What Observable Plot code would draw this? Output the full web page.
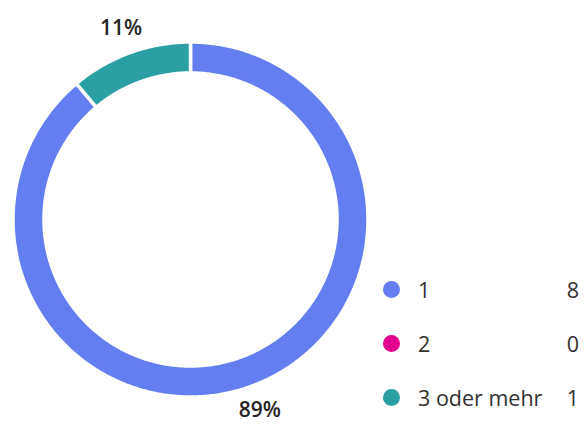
<!DOCTYPE html>
<html>
<head>
<meta charset="utf-8">
<script src="https://cdn.jsdelivr.net/npm/d3@7"></script>
<script src="https://cdn.jsdelivr.net/npm/@observablehq/plot@0.6"></script>
<style>
  html, body { margin: 0; padding: 0; background: #fff; }
  #wrap { position: relative; width: 585px; height: 424px; font-family: "Open Sans", sans-serif; }
  #legend { position: absolute; left: 383px; top: 262px; width: 196px; }
  .row { display: flex; align-items: center; height: 54px; font-size: 21.5px; color: #323130; }
  .dot { width: 17px; height: 17px; border-radius: 50%; margin-right: 18px; flex: none; }
  .lab { flex: 1; }
  .val { text-align: right; }
</style>
</head>
<body>
<div id="wrap"><div id="chart"></div><div id="legend"></div></div>
<script>
const categories = ["1", "2", "3 oder mehr"];
const counts = [8, 0, 1];
const colors = ["#637ef0", "#e3008c", "#2aa0a4"];

const outerR = 177.5, innerR = 146.5;
const cx = 190, cy = 219;
const W = 585, H = 424;

const total = d3.sum(counts);
const arcs = d3.pie().sort(null).value(d => d)(counts);

function sectorPoints(a0, a1, key) {
  const pts = [];
  const n = Math.max(2, Math.ceil((a1 - a0) / 0.01));
  for (let i = 0; i <= n; i++) {
    const a = a0 + (a1 - a0) * i / n;
    pts.push({x: outerR * Math.sin(a), y: -outerR * Math.cos(a), key});
  }
  for (let i = n; i >= 0; i--) {
    const a = a0 + (a1 - a0) * i / n;
    pts.push({x: innerR * Math.sin(a), y: -innerR * Math.cos(a), key});
  }
  pts.push(pts[0]);
  return pts;
}

const sliceMarks = arcs
  .map((a, i) => ({a, i}))
  .filter(({a}) => a.value > 0)
  .map(({a, i}) => Plot.line(sectorPoints(a.startAngle, a.endAngle, categories[i]), {
    x: "x", y: "y", fill: colors[i], stroke: "white", strokeWidth: 3.5, strokeLinejoin: "miter"
  }));

const labelR = 203;
const labels = arcs
  .map((a, i) => ({a, i}))
  .filter(({a}) => a.value > 0)
  .map(({a, i}) => {
    const m = (a.startAngle + a.endAngle) / 2;
    return {x: labelR * Math.sin(m), y: -labelR * Math.cos(m), text: Math.round(counts[i] / total * 100) + "%"};
  });

const chart = Plot.plot({
  width: W, height: H,
  margin: 0,
  x: {domain: [-cx, W - cx], range: [0, W], axis: null},
  y: {domain: [-cy, H - cy], range: [0, H], axis: null},
  style: {fontFamily: "Open Sans, sans-serif", background: "white"},
  marks: [
    ...sliceMarks,
    Plot.text(labels, {x: "x", y: "y", text: "text", fontSize: 21, fontWeight: 600, fill: "#252423"})
  ]
});
document.getElementById("chart").appendChild(chart);

const legend = d3.select("#legend");
categories.forEach((c, i) => {
  const row = legend.append("div").attr("class", "row");
  row.append("div").attr("class", "dot").style("background", colors[i]);
  row.append("div").attr("class", "lab").text(c);
  row.append("div").attr("class", "val").text(counts[i]);
});
</script>
</body>
</html>
